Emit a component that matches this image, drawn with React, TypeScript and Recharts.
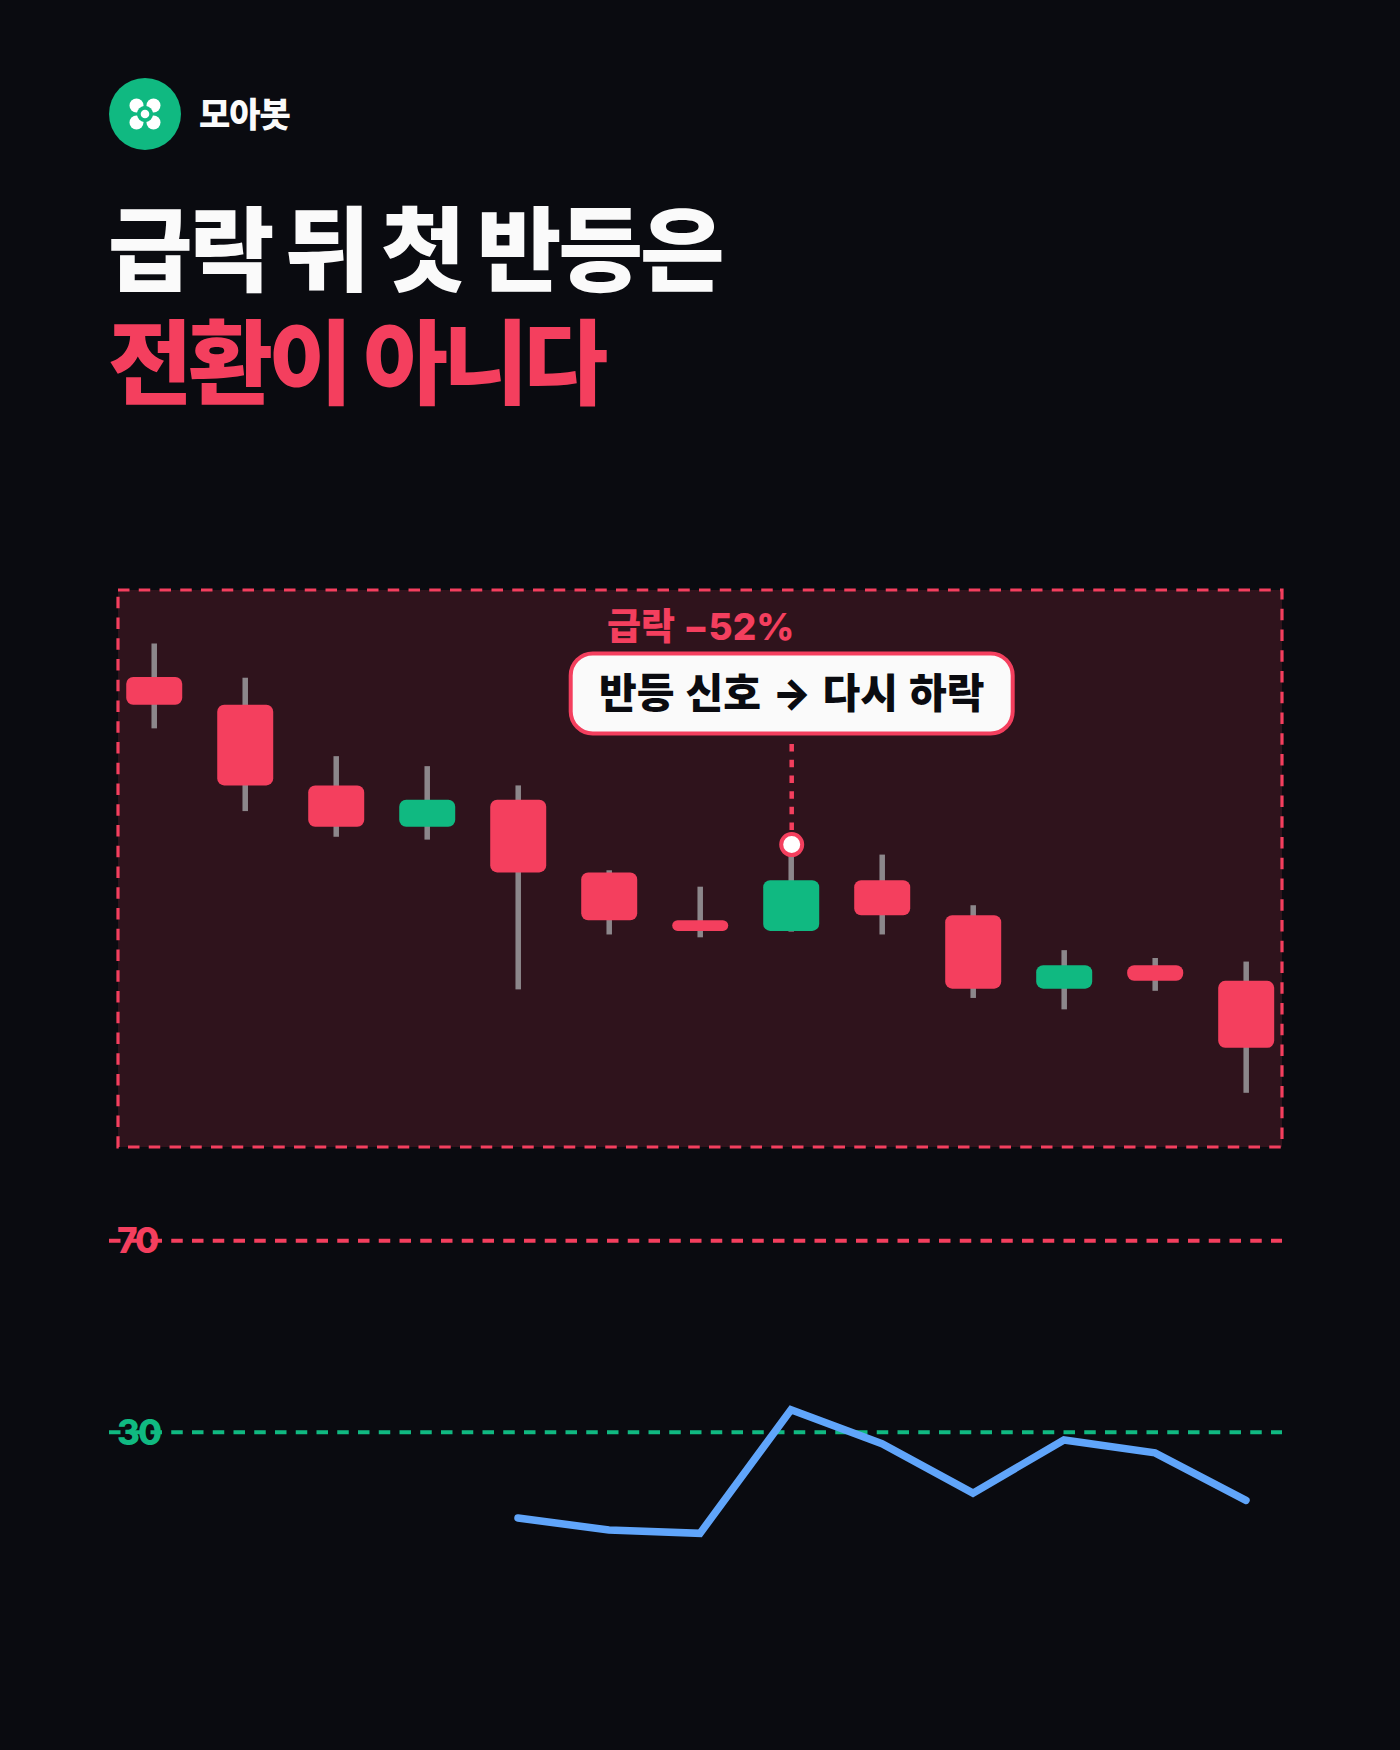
import React from 'react';
import { ComposedChart, Bar, Line, XAxis, YAxis, ReferenceArea, ReferenceLine, ReferenceDot } from 'recharts';

const sessions = [0, 1, 2, 3, 4, 5, 6, 7, 8, 9, 10, 11, 12];
const opens = [100, 96.1, 84.8, 79.0, 82.8, 72.6, 65.9, 64.4, 71.5, 66.6, 56.3, 59.6, 57.4];
const closes = [96.1, 84.8, 79.0, 82.8, 72.6, 65.9, 64.4, 71.5, 66.6, 56.3, 59.6, 57.4, 48];
const highs = [104.7, 99.9, 88.9, 87.5, 84.8, 72.9, 70.6, 76.5, 75.1, 68.0, 61.7, 60.6, 60.1];
const lows = [92.8, 81.2, 77.6, 77.2, 56.2, 63.9, 63.5, 64.3, 63.9, 55.0, 53.4, 56.0, 41.7];
const rsiValues = [null, null, null, null, 12.1, 9.6, 8.9, 34.7, 27.6, 17.3, 28.4, 25.7, 15.8];

const RED = '#F43F5E';
const GREEN = '#10B981';
const BLUE = '#60A5FA';
const BG = '#0A0B10';
const FONT = 'Inter, "Noto Sans CJK KR", "Noto Sans", sans-serif';

const priceRows = sessions.map((i) => ({ i, open: opens[i], close: closes[i], high: highs[i], low: lows[i] }));
const rsiRows = sessions.map((i) => ({ i, rsi: rsiValues[i] }));

const xMin = -0.4036;
const xMax = 12.388;

const Candle = (props: any) => {
  const { x, y, width, height, payload } = props;
  const cx = x + width / 2;
  const h = Math.abs(height);
  const perUnit = h / (payload.high - payload.low);
  const top = y + (payload.high - Math.max(payload.open, payload.close)) * perUnit;
  const bodyH = Math.abs(payload.open - payload.close) * perUnit;
  const r = Math.min(7, bodyH / 2);
  return (
    <g>
      <rect x={cx - 2.75} y={y} width={5.5} height={h} fill="#8C878B" />
      <rect x={x} y={top} width={width} height={bodyH} rx={r} ry={r} fill={payload.close >= payload.open ? GREEN : RED} />
    </g>
  );
};

const Callout = (props: any) => {
  const { cx, cy } = props;
  return (
    <g>
      <rect x={cx - 221} y={cy - 40} width={442} height={80} rx={22} ry={22} fill="#FAFAFA" stroke={RED} strokeWidth={4} />
      <text x={cx} y={cy + 14.5} textAnchor="middle" fontFamily={FONT} fontWeight={900} fontSize={41} wordSpacing={3} fill="#0A0B10">
        반등 신호 → 다시 하락
      </text>
    </g>
  );
};

const DropLabel = (props: any) => {
  const { cx, cy } = props;
  return (
    <text x={cx} y={cy} textAnchor="middle" fontFamily={FONT} fontWeight={800} fontSize={37} fill={RED}>
      급락 −52%
    </text>
  );
};

const abs = (l: number, t: number): React.CSSProperties => ({ position: 'absolute', left: l, top: t });

export default function App() {
  return (
    <div style={{ position: 'absolute', left: 0, top: 0, width: 1400, height: 1750, background: BG, overflow: 'hidden', fontFamily: FONT }}>
      <svg width={72} height={72} style={abs(109, 78)} viewBox="-36 -36 72 72">
        <circle r={36} fill={GREEN} />
        <circle cx={-8.5} cy={-8.5} r={7} fill="#FFFFFF" />
        <circle cx={8.5} cy={-8.5} r={7} fill="#FFFFFF" />
        <circle cx={-8.5} cy={8.5} r={7} fill="#FFFFFF" />
        <circle cx={8.5} cy={8.5} r={7} fill="#FFFFFF" />
        <circle r={8} fill={GREEN} />
        <circle r={4.3} fill="#FFFFFF" />
      </svg>
      <div style={{ ...abs(199, 91), color: '#FAFAFA', fontWeight: 900, fontSize: 34, lineHeight: '48px', letterSpacing: -1, whiteSpace: 'nowrap' }}>모아봇</div>
      <div style={{ ...abs(108, 195), color: '#FAFAFA', fontWeight: 900, fontSize: 92, lineHeight: '112px', letterSpacing: -3, wordSpacing: -1.3, whiteSpace: 'nowrap' }}>급락 뒤 첫 반등은</div>
      <div style={{ ...abs(108, 308), color: RED, fontWeight: 900, fontSize: 92, lineHeight: '112px', letterSpacing: -4.5, wordSpacing: 1, whiteSpace: 'nowrap' }}>전환이 아니다</div>

      <div style={abs(108, 580)}>
        <ComposedChart width={1184} height={577} data={priceRows} margin={{ top: 10, right: 10, bottom: 10, left: 10 }}>
          <XAxis dataKey="i" type="number" hide domain={[xMin, xMax]} allowDataOverflow />
          <YAxis type="number" hide domain={[34.1, 112.2]} allowDataOverflow />
          <ReferenceArea x1={xMin} x2={xMax} y1={34.1} y2={112.2} fill="#2F131C" fillOpacity={1} stroke={RED} strokeWidth={3.2} strokeDasharray="11.5 9.25" ifOverflow="visible" />
          <Bar dataKey={(d: any) => [d.low, d.high]} barSize={56} shape={Candle} isAnimationActive={false} />
          <ReferenceLine segment={[{ x: 7, y: 90.6 }, { x: 7, y: 76.5 }]} stroke={RED} strokeWidth={4.5} strokeDasharray="7.5 8.2" ifOverflow="visible" />
          <ReferenceDot x={7} y={76.5} r={10.5} fill="#FFFFFF" stroke={RED} strokeWidth={4} ifOverflow="visible" />
          <ReferenceDot x={7} y={97.7} r={0} shape={Callout} ifOverflow="visible" />
          <ReferenceDot x={6} y={105.25} r={0} shape={DropLabel} ifOverflow="visible" />
        </ComposedChart>
      </div>

      <div style={abs(109, 1097)}>
        <ComposedChart width={1173} height={479} data={rsiRows} margin={{ top: 0, right: 0, bottom: 0, left: 0 }}>
          <XAxis dataKey="i" type="number" hide domain={[-0.4945, 12.396]} allowDataOverflow />
          <YAxis type="number" hide domain={[0, 100]} allowDataOverflow />
          <ReferenceLine y={70} stroke={RED} strokeWidth={4} strokeDasharray="11.5 9.25" label={{ value: '70', position: 'insideLeft', fill: RED, fontSize: 35, fontWeight: 800, fontFamily: FONT, letterSpacing: -2, dx: 3 }} />
          <ReferenceLine y={30} stroke={GREEN} strokeWidth={4} strokeDasharray="11.5 9.25" label={{ value: '30', position: 'insideLeft', fill: GREEN, fontSize: 35, fontWeight: 800, fontFamily: FONT, letterSpacing: -2, dx: 3 }} />
          <Line dataKey="rsi" type="linear" stroke={BLUE} strokeWidth={7.5} strokeLinecap="round" strokeLinejoin="miter" dot={false} activeDot={false} connectNulls={false} isAnimationActive={false} />
        </ComposedChart>
      </div>
    </div>
  );
}
